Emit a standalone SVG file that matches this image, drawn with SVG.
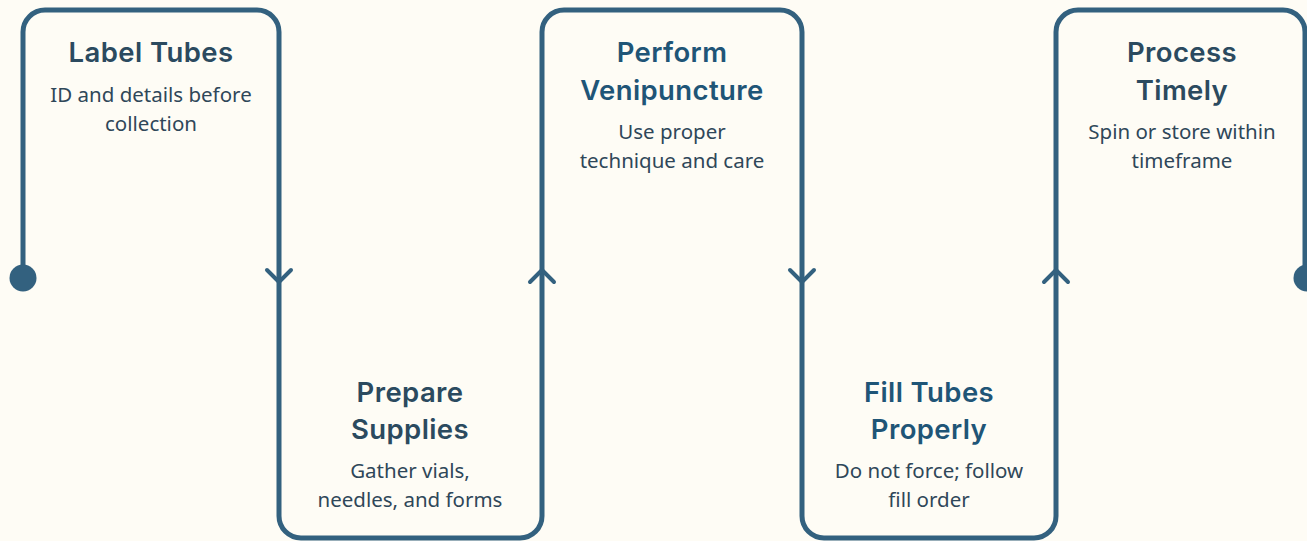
<svg xmlns="http://www.w3.org/2000/svg" width="1307" height="541" viewBox="0 0 1307 541">
<style>
.bg{fill:#fefcf5}
.line{fill:none;stroke:#33617f;stroke-width:5;stroke-linecap:round;stroke-linejoin:round}
.chev{fill:none;stroke:#33617f;stroke-width:4;stroke-linecap:round;stroke-linejoin:round}
.dot{fill:#33617f}
.t{font-family:Inter,"Noto Sans",sans-serif;font-weight:600;font-size:27.5px;letter-spacing:0.4px;text-anchor:middle;fill:#2b4a5f}
.t.b{fill:#1f5577}
.d{font-family:"Noto Sans","Open Sans",sans-serif;font-size:20.5px;text-anchor:middle;fill:#2f4759}
</style>
<rect class="bg" x="0" y="0" width="1307" height="541"/>
<g id="connectors">
<path class="line" d="M23,277 V32 A22,22 0 0 1 45,10 H257 A22,22 0 0 1 279,32 V516 A22,22 0 0 0 301,538 H520 A22,22 0 0 0 542,516 V32 A22,22 0 0 1 564,10 H780 A22,22 0 0 1 802,32 V516 A22,22 0 0 0 824,538 H1034 A22,22 0 0 0 1056,516 V32 A22,22 0 0 1 1078,10 H1283 A22,22 0 0 1 1305,32 V278"/>
<circle class="dot" cx="23" cy="278" r="13.5"/>
<circle class="dot" cx="1307" cy="278" r="13.5"/>
<polyline class="chev" points="267,270 279,282 291,270"/>
<polyline class="chev" points="530,282 542,270 554,282"/>
<polyline class="chev" points="790,270 802,282 814,270"/>
<polyline class="chev" points="1044,282 1056,270 1068,282"/>
</g>
<g id="node-label-tubes">
<text class="t" x="151" y="62">Label Tubes</text>
<text class="d" x="151" y="102">ID and details before</text>
<text class="d" x="151" y="131">collection</text>
</g>
<g id="node-prepare-supplies">
<text class="t" x="410" y="402">Prepare</text>
<text class="t" x="410" y="439">Supplies</text>
<text class="d" x="410" y="478">Gather vials,</text>
<text class="d" x="410" y="507">needles, and forms</text>
</g>
<g id="node-perform-venipuncture">
<text class="t b" x="672" y="62">Perform</text>
<text class="t b" x="672" y="100">Venipuncture</text>
<text class="d" x="672" y="139">Use proper</text>
<text class="d" x="672" y="168">technique and care</text>
</g>
<g id="node-fill-tubes">
<text class="t b" x="929" y="402">Fill Tubes</text>
<text class="t b" x="929" y="439">Properly</text>
<text class="d" x="929" y="478">Do not force; follow</text>
<text class="d" x="929" y="507">fill order</text>
</g>
<g id="node-process-timely">
<text class="t" x="1182" y="62">Process</text>
<text class="t" x="1182" y="100">Timely</text>
<text class="d" x="1182" y="139">Spin or store within</text>
<text class="d" x="1182" y="168">timeframe</text>
</g>
</svg>
